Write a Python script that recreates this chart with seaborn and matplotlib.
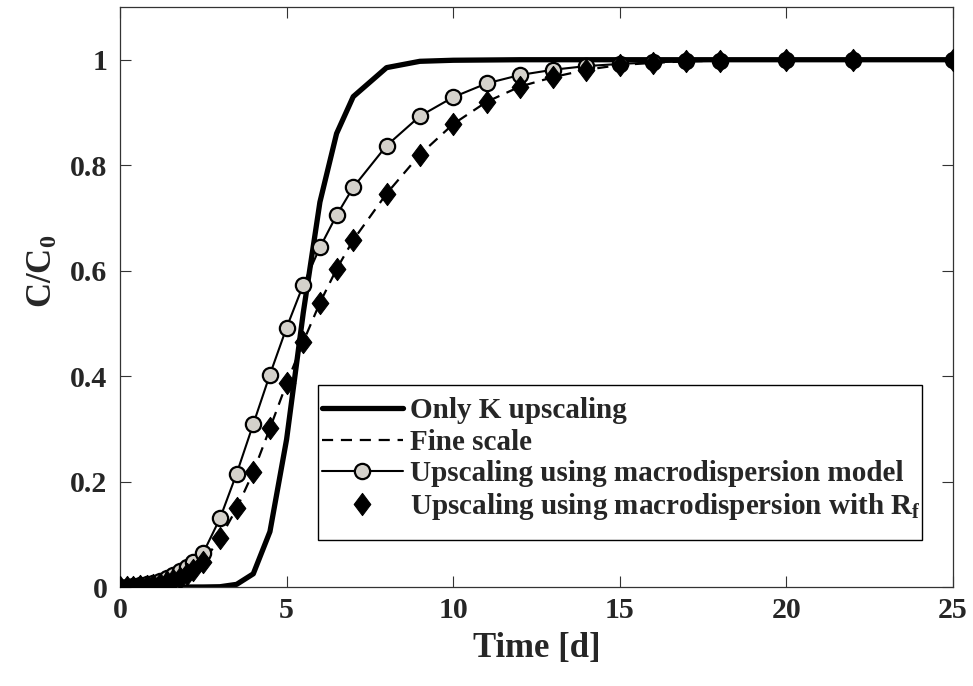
import numpy as np
import pandas as pd
import matplotlib
matplotlib.use("Agg")
import matplotlib.pyplot as plt
import seaborn as sns
from matplotlib.path import Path
from matplotlib.patches import Rectangle

# ---- data ----
t_k = [0, 0.5, 1, 1.5, 2, 2.5, 3, 3.5, 4, 4.5, 5, 5.5, 6, 6.5, 7, 8, 9, 10, 12, 15, 20, 25]
c_k = [0, 0, 0, 0, 0, 0, 0.0005, 0.005, 0.025, 0.105, 0.28, 0.52, 0.73, 0.86, 0.93, 0.985, 0.997, 0.999, 1.0, 1.0, 1.0, 1.0]

t_macro = [0, 0.2, 0.4, 0.6, 0.8, 1.0, 1.2, 1.4, 1.6, 1.8, 2.0, 2.2, 2.5, 3, 3.5, 4, 4.5, 5, 5.5,
           6, 6.5, 7, 8, 9, 10, 11, 12, 13, 14, 15, 16, 17, 18, 20, 22, 25]
c_macro = [0, 0.0, 0.001, 0.003, 0.005, 0.008, 0.012, 0.017, 0.023, 0.03, 0.038, 0.048, 0.065, 0.13,
           0.215, 0.309, 0.403, 0.492, 0.573, 0.644, 0.705, 0.758, 0.837, 0.893, 0.929, 0.955, 0.971,
           0.981, 0.988, 0.992, 0.995, 0.997, 0.998, 0.999, 1.0, 1.0]

t_fine = [0, 0.2, 0.4, 0.6, 0.8, 1.0, 1.2, 1.4, 1.6, 1.8, 2.0, 2.2, 2.5, 3, 3.5, 4, 4.5, 5, 5.5,
          6, 6.5, 7, 8, 9, 10, 11, 12, 13, 14, 15, 16, 17, 18, 20, 22, 25]
c_fine = [0, 0, 0.0005, 0.001, 0.002, 0.004, 0.006, 0.009, 0.013, 0.018, 0.024, 0.032, 0.048, 0.092,
          0.149, 0.218, 0.301, 0.386, 0.465, 0.539, 0.603, 0.658, 0.746, 0.82, 0.878, 0.92, 0.949,
          0.967, 0.981, 0.99, 0.994, 0.997, 0.998, 0.999, 1.0, 1.0]

t_rf = t_fine
c_rf = c_fine

labels = ["Only K upscaling", "Fine scale",
          "Upscaling using macrodispersion model",
          "Upscaling using macrodispersion with R$_\\mathbf{f}$"]

yticks = [0, 0.2, 0.4, 0.6, 0.8, 1.0]
ytick_labels = ["0", "0.2", "0.4", "0.6", "0.8", "1"]
xticks = [0, 5, 10, 15, 20, 25]

# ---- style ----
sns.set_style("ticks")
plt.rcParams["font.family"] = ["Liberation Serif", "DejaVu Serif"]
plt.rcParams["font.weight"] = "bold"
plt.rcParams["mathtext.fontset"] = "custom"
plt.rcParams["mathtext.rm"] = "Liberation Serif:bold"
plt.rcParams["mathtext.bf"] = "Liberation Serif:bold"
plt.rcParams["mathtext.it"] = "Liberation Serif:bold"

fig = plt.figure(figsize=(9.73, 6.86), dpi=100)
ax = fig.add_axes([120 / 973, 99 / 686, 833 / 973, 580 / 686])

diamond = Path([(0, 1), (0.75, 0), (0, -1), (-0.75, 0), (0, 1)],
               [Path.MOVETO, Path.LINETO, Path.LINETO, Path.LINETO, Path.CLOSEPOLY])

df_k = pd.DataFrame({"t": t_k, "c": c_k})
df_f = pd.DataFrame({"t": t_fine, "c": c_fine})
df_m = pd.DataFrame({"t": t_macro, "c": c_macro})
df_r = pd.DataFrame({"t": t_rf, "c": c_rf})

sns.lineplot(data=df_k, x="t", y="c", ax=ax, color="black", lw=3.8,
             label=labels[0], zorder=2)
sns.lineplot(data=df_f, x="t", y="c", ax=ax, color="black", lw=1.6,
             dashes=False, linestyle=(0, (5, 3.5)), label=labels[1], zorder=3)
sns.lineplot(data=df_m, x="t", y="c", ax=ax, color="black", lw=1.5,
             marker="o", markersize=11, markerfacecolor="#d4d1cb",
             markeredgecolor="black", markeredgewidth=1.6,
             label=labels[2], zorder=4)
sns.lineplot(data=df_r, x="t", y="c", ax=ax, color="black", linestyle="none",
             marker=diamond, markersize=16, markerfacecolor="black",
             markeredgecolor="black", label=labels[3], zorder=5)

ax.set_xlim(0, 25)
ax.set_ylim(0, 1.1)
ax.set_xticks(xticks)
ax.set_xticklabels([str(v) for v in xticks])
ax.set_yticks(yticks)
ax.set_yticklabels(ytick_labels)
ax.tick_params(direction="in", length=8, width=0.8, top=True, right=True,
               labelsize=21.5, color="#333333")
ax.tick_params(axis="y", pad=9)
ax.tick_params(axis="x", pad=7)
for lab in ax.get_xticklabels() + ax.get_yticklabels():
    lab.set_fontweight("bold")
for s in ax.spines.values():
    s.set_visible(True)
    s.set_linewidth(0.9)
    s.set_color("#333333")

ax.set_xlabel("Time [d]", fontsize=25, fontweight="bold", labelpad=6)
ax.set_ylabel("C/C$_\\mathbf{0}$", fontsize=25, fontweight="bold")
ax.yaxis.set_label_coords(-0.072, 0.545)

# legend box (frame drawn separately to match padding)
box = Rectangle((0.2377, 0.081), 0.9628 - 0.2377, 0.3483 - 0.081,
                transform=ax.transAxes, facecolor="white", edgecolor="black",
                linewidth=1.0, zorder=6)
ax.add_patch(box)
leg = ax.legend(loc="upper left", bbox_to_anchor=(0.2377, 0.3345), fontsize=21,
                frameon=False, handlelength=2.75, labelspacing=0.15,
                borderpad=0.15, handletextpad=0.27, borderaxespad=0)
leg.set_zorder(7)
for txt in leg.get_texts():
    txt.set_fontweight("bold")

fig.savefig("out.png", dpi=100)
